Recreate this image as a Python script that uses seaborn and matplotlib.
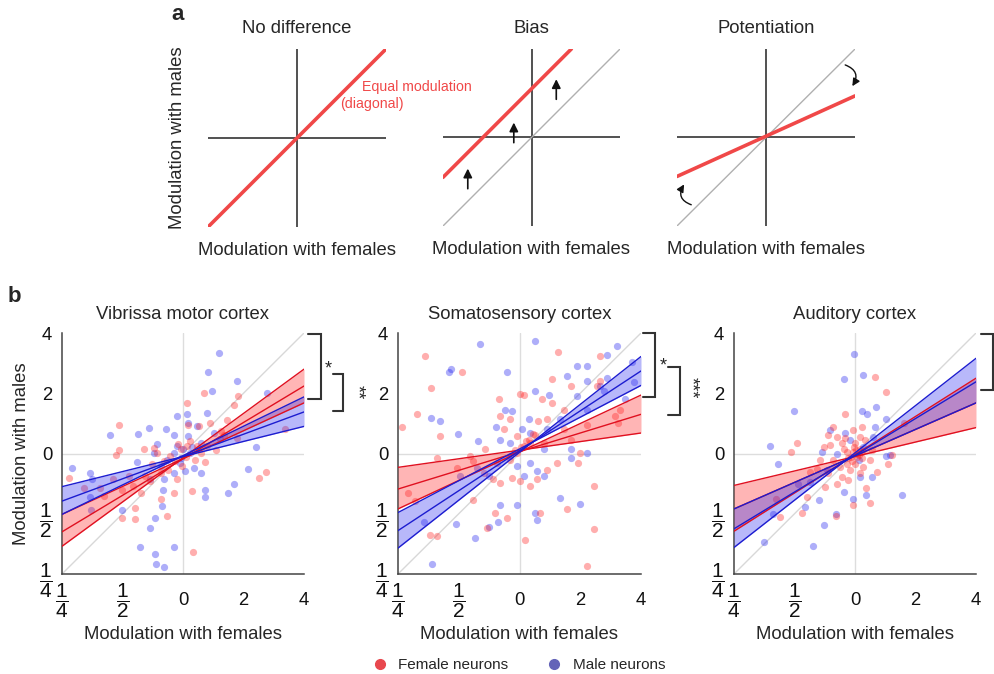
import matplotlib
matplotlib.use("Agg")
import matplotlib.pyplot as plt
from matplotlib.lines import Line2D
import seaborn as sns

sns.set_theme(style="white")
plt.rcParams['font.family'] = ['Liberation Sans', 'DejaVu Sans']
plt.rcParams['mathtext.fontset'] = 'custom'
plt.rcParams['mathtext.rm'] = 'Liberation Sans'
plt.rcParams['mathtext.it'] = 'Liberation Sans:italic'
plt.rcParams['mathtext.bf'] = 'Liberation Sans:bold'

# ---- panel a: schematic lines (unit square -1..1) ----
diag = [-1, 1]
bias_x = [-1, 0.45]
bias_y = [-0.45, 1]
pot_x = [-1, 1]
pot_y = [-0.44, 0.47]
bias_arrow_x = [-0.72, -0.20, 0.28]
bias_arrow_y0 = [-0.61, -0.09, 0.40]
bias_arrow_y1 = [-0.32, 0.20, 0.69]
pot_arrow_start = [(-0.84, -0.76), (0.89, 0.82)]
pot_arrow_end = [(-0.92, -0.53), (0.97, 0.58)]

# ---- panel b: log2 modulation ----
tick_pos = [-2, -1, 0, 1, 2]
tick_labels = [r'$\dfrac{1}{4}$', r'$\dfrac{1}{2}$', '0', '2', '4']
regions = ["Vibrissa motor cortex", "Somatosensory cortex", "Auditory cortex"]

vmc_f_x = [-1.89, -1.64, -1.37, -1.15, -1.06, -1.06, -1.10, -0.90, -0.82, -0.79, -0.79, -1.01,
           -1.01, -0.62, -0.65, -0.48, -0.36, -0.26, -0.15, -0.10, -0.02, 0.06, 0.09, 0.26,
           0.35, 0.17, 0.15, 0.37, 0.84, 0.91, 0.73, 0.62, 0.90, 1.25, 1.38, 1.69, -0.04,
           0.07, -0.21, -0.13, -0.32, -0.43, 0.29, 0.23, 0.40, 0.45, -0.37, -0.51, -0.70,
           -0.55, -1.30, 0.05, 0.12, -0.08, 0.20, 0.55, 0.68, -0.25]
vmc_f_y = [-0.40, -0.57, -0.58, -0.43, 0.48, 0.06, -0.02, -0.38, -0.54, -0.90, -1.09, -1.07,
           -0.60, -0.38, 0.07, 0.09, -0.76, -1.04, -0.65, -0.43, -0.21, 0.83, 0.48, 0.45,
           1.01, -1.64, -0.62, -0.14, 0.81, 0.95, 0.56, 0.37, 0.25, -0.41, -0.31, 0.40, 0.07,
           0.12, -0.04, -0.13, -0.13, 0.01, 0.01, 0.12, 0.12, 0.51, -0.32, -0.18, -0.66,
           -0.45, -0.70, -0.05, 0.20, 0.15, -0.10, 0.05, 0.30, -0.28]
vmc_m_x = [0.59, 0.42, 0.48, 0.89, 1.39, 0.40, 0.07, -0.10, 0.23, -1.20, -0.75, -0.57, -0.28,
           -0.15, 1.20, 1.08, 0.84, 0.75, 0.37, 0.37, -1.83, -1.53, -1.50, -1.53, -1.52,
           -1.01, -0.76, -0.48, -0.32, -0.33, -0.35, -0.47, -0.55, -0.71, -0.15, -0.47,
           -0.45, -0.32, -0.15, 0.04, 0.18, 0.29, 0.12, -0.04, 0.00, 0.09, 0.29, 0.51, 0.61,
           -0.15, -0.26, -0.37, -0.10, 0.09, -0.43, -0.54, 0.15, -0.05]
vmc_m_y = [1.67, 1.36, 1.03, 1.20, 1.01, 0.67, 0.65, 0.62, 0.45, 0.31, 0.33, 0.43, 0.40,
           0.31, 0.11, -0.25, -0.51, -0.65, -0.60, -0.73, -0.24, -0.32, -0.43, -0.73, -0.94,
           -0.93, -0.14, 0.01, -0.43, -0.60, -0.87, -1.07, -1.23, -1.56, -1.56, -1.67,
           -1.84, -1.88, -0.32, -0.29, -0.24, -0.32, 0.01, -0.07, 0.07, 0.29, 0.18, 0.34,
           0.24, 0.01, -0.10, -0.21, 0.12, 0.51, 0.15, -0.43, 0.10, -0.15]

ssc_f_x = [-1.56, -0.94, -1.45, -1.69, -1.93, -1.31, -1.36, -1.83, -1.72, -1.47, -1.35, -1.03,
           -0.76, -0.57, -0.33, 0.01, 0.08, 0.64, 0.37, 0.53, 0.53, 0.73, 0.84, 1.28, 1.33,
           1.32, 1.66, 1.58, 1.62, 1.11, 1.00, 0.97, 1.22, 1.22, 1.11, 0.78, 0.33, 0.09,
           -0.21, -0.40, -0.54, -0.77, -0.43, -0.32, -0.13, 0.01, 0.18, 0.29, 0.45, 0.62,
           -0.15, -0.32, -0.26, -0.04, 0.07, 0.18, 0.15, 0.23, 0.31, 0.45, -0.04, -0.15,
           -0.37, -0.59, -0.81, 0.73, 0.84, 0.40, 0.10, 0.25, 0.02, -0.08]
ssc_f_y = [1.62, 1.36, 1.09, 0.65, 0.44, 0.29, -0.07, -0.66, -0.79, -1.35, -1.37, -0.24,
           -0.13, 0.08, 0.91, 0.98, 0.97, 1.69, 0.90, 0.84, 1.23, 0.73, 1.12, 1.12, 1.62,
           1.21, 0.73, 0.62, 0.50, 0.47, 0.01, -0.16, -0.54, -1.26, -1.87, -0.92, -0.98,
           -1.44, -1.07, -0.98, -1.24, -0.78, -0.43, -0.49, -0.41, -0.46, -0.54, -0.43,
           -0.27, -0.16, 0.57, 0.62, 0.40, 0.29, 0.12, 0.18, 0.23, 0.32, 0.54, 0.57, 0.01,
           -0.10, -0.16, -0.32, -0.04, 0.40, 0.23, 0.18, 0.20, 0.30, 0.10, 0.05]
ssc_m_x = [-0.65, 0.26, -1.13, -1.16, -0.21, -1.45, -1.31, -1.01, -0.39, -0.24, -0.13, 0.26,
           0.48, 0.95, 0.78, 1.11, 0.95, 1.44, 1.61, 1.44, 1.11, 1.33, 1.39, 1.85, 1.88,
           1.74, 1.11, 0.84, 1.11, 0.40, 0.67, 1.00, 0.26, 0.29, -0.04, -0.32, -0.35, -0.51,
           -0.73, -1.05, -1.44, -1.57, -0.98, -0.68, -0.15, -0.04, 0.07, 0.18, 0.29, 0.40,
           0.84, 0.15, 0.04, -0.15, -0.32, -0.51, -0.70, 0.67, 0.18, 0.45]
ssc_m_y = [1.82, 1.86, 1.41, 1.36, 1.36, 0.59, 0.54, 0.32, 0.44, 0.72, 0.71, 1.04, 0.97,
           0.96, 1.29, 1.46, 1.46, 1.63, 1.78, 1.26, 1.21, 1.12, 1.04, 1.52, 1.18, 0.90,
           0.73, 0.07, 0.01, 0.07, -0.74, -0.84, -0.99, -1.10, -0.85, -0.85, -1.13, -1.22,
           -1.41, -1.17, -1.84, -1.14, -0.37, 0.21, -0.04, -0.21, -0.38, -0.16, -0.29,
           -0.38, -0.07, 0.57, 0.40, 0.18, 0.23, -0.38, -0.24, 0.57, 0.34, 0.40]

ac_f_x = [0.33, 0.51, -0.17, -0.96, -1.06, -1.31, -1.24, -0.87, -0.80, -0.50, -0.31, -0.04,
          0.25, 0.18, 0.54, 0.61, 0.81, -0.36, -0.44, -0.30, -0.17, -0.03, 0.11, -0.14,
          -0.06, 0.03, 0.08, 0.00, -0.08, -0.25, -0.36, 0.14, 0.25, 0.28, 0.17, -0.58,
          -0.63, -0.44, -0.22, -0.11, 0.08, 0.36, -0.52, -0.41, -0.22, 0.00, 0.08, -0.11,
          0.06, -0.03, 0.11, -0.14, -0.30, -0.74, 0.02, -0.05, 0.04, -0.02, 0.12, -0.18]
ac_f_y = [1.27, 1.02, 0.66, 0.17, 0.03, -0.75, -1.05, -0.99, -0.72, -0.55, -1.04, -0.86,
          -0.82, -0.58, -0.17, -0.03, 0.50, 0.44, 0.30, 0.28, 0.25, 0.39, 0.44, 0.03,
          -0.06, 0.00, 0.08, -0.17, -0.28, -0.22, -0.11, -0.22, -0.11, 0.06, 0.22, -0.11,
          -0.25, -0.33, -0.39, -0.44, -0.33, -0.30, 0.11, 0.14, 0.17, 0.17, 0.28, -0.08,
          -0.03, 0.03, -0.08, -0.17, -0.50, -0.30, 0.05, -0.12, -0.05, 0.10, 0.02, 0.08]
ac_m_x = [-0.01, 0.14, -0.18, -1.00, 0.12, 0.20, 0.34, 0.52, 0.33, -0.41, -0.17, -1.40,
          -1.27, -0.95, -0.74, -0.59, -0.31, -0.51, -0.69, -1.50, -1.36, -0.83, -0.04,
          -0.19, 0.19, 0.28, 0.52, 0.58, 0.77, 0.08, -0.55, -0.30, 0.14, -0.08, -0.47,
          0.30, 0.06]
ac_m_y = [1.65, 1.31, 1.23, 0.70, 0.70, 0.66, 0.78, 0.58, 0.44, 0.39, 0.34, 0.12, -0.18,
          -0.50, -0.47, -0.78, -1.01, -1.19, -1.53, -1.47, -1.00, -0.89, -0.76, -0.64,
          -0.69, -0.39, -0.04, -0.03, -0.69, -0.39, 0.03, 0.00, 0.11, 0.22, -0.28, 0.28,
          -0.11]

# fitted lines evaluated at x = -2 and x = 2: centre fit, shallow and steep bounds
fit_x = [-2, 2]
vmc_f_fit, vmc_f_lo, vmc_f_hi = [-1.30, 1.12], [-1.01, 0.84], [-1.54, 1.40]
vmc_m_fit, vmc_m_lo, vmc_m_hi = [-0.79, 0.69], [-0.55, 0.45], [-1.01, 0.94]
ssc_f_fit, ssc_f_lo, ssc_f_hi = [-0.59, 0.65], [-0.23, 0.34], [-0.92, 0.97]
ssc_m_fit, ssc_m_lo, ssc_m_hi = [-1.28, 1.37], [-0.98, 1.13], [-1.57, 1.61]
ac_f_fit, ac_f_lo, ac_f_hi = [-0.92, 0.84], [-0.53, 0.43], [-1.29, 1.25]
ac_m_fit, ac_m_lo, ac_m_hi = [-1.25, 1.19], [-0.92, 0.84], [-1.56, 1.58]

W, H = 995, 674
fig = plt.figure(figsize=(W / 100, H / 100), dpi=100)


def px_axes(x0, y0, x1, y1):
    return fig.add_axes([x0 / W, 1 - y1 / H, (x1 - x0) / W, (y1 - y0) / H])


def fig_line(xs, ys, **kw):
    fig.add_artist(Line2D([x / W for x in xs], [1 - y / H for y in ys], **kw))


def fig_text(x, y, s, **kw):
    fig.text(x / W, 1 - y / H, s, **kw)


RED_A = '#f04848'
FS = 13.3

# ---------- panel a ----------
a_boxes = [(208, 49, 386, 227), (443, 49, 620, 226), (677, 49, 855, 226)]
a_titles = ["No difference", "Bias", "Potentiation"]
a_axes = []
for box, title in zip(a_boxes, a_titles):
    ax = px_axes(*box)
    ax.set_xlim(-1, 1)
    ax.set_ylim(-1, 1)
    ax.axis('off')
    ax.plot([-1, 1], [0, 0], color='#222222', lw=1.1)
    ax.plot([0, 0], [-1, 1], color='#222222', lw=1.1)
    ax.text(0.5, 1.115, title, transform=ax.transAxes, ha='center', va='center', fontsize=FS)
    ax.text(0.5, -0.13, "Modulation with females", transform=ax.transAxes,
            ha='center', va='center', fontsize=FS)
    a_axes.append(ax)

a1, a2, a3 = a_axes
sns.lineplot(x=diag, y=diag, color=RED_A, lw=2.6, ax=a1)
a1.text(-0.17, 0.5, "Modulation with males", transform=a1.transAxes, rotation=90,
        ha='center', va='center', fontsize=FS)
fig_text(362, 87, "Equal modulation", color=RED_A, fontsize=10.2, va='center')
fig_text(340, 104, "(diagonal)", color=RED_A, fontsize=10.2, va='center')

a2.plot(diag, diag, color='#b0b0b0', lw=1.0)
sns.lineplot(x=bias_x, y=bias_y, color=RED_A, lw=2.6, ax=a2)
for x, y0, y1 in zip(bias_arrow_x, bias_arrow_y0, bias_arrow_y1):
    a2.annotate('', xy=(x, y1), xytext=(x, y0),
                arrowprops=dict(arrowstyle='-|>', color='#111111', lw=1.2, mutation_scale=13))

a3.plot(diag, diag, color='#b0b0b0', lw=1.0)
sns.lineplot(x=pot_x, y=pot_y, color=RED_A, lw=2.6, ax=a3)
for st, en in zip(pot_arrow_start, pot_arrow_end):
    a3.annotate('', xy=en, xytext=st,
                arrowprops=dict(arrowstyle='-|>', color='#111111', lw=1.0, mutation_scale=11,
                                shrinkA=0, shrinkB=0, connectionstyle='arc3,rad=-0.6'))

fig_text(178, 15, "a", fontsize=16, fontweight='bold', va='center', ha='center')

# ---------- panel b ----------
b_boxes = [(62, 333, 304, 574), (398, 333, 641, 574), (734, 333, 976, 574)]
b_data = [
    (vmc_f_x, vmc_f_y, vmc_m_x, vmc_m_y,
     (vmc_f_fit, vmc_f_lo, vmc_f_hi), (vmc_m_fit, vmc_m_lo, vmc_m_hi)),
    (ssc_f_x, ssc_f_y, ssc_m_x, ssc_m_y,
     (ssc_f_fit, ssc_f_lo, ssc_f_hi), (ssc_m_fit, ssc_m_lo, ssc_m_hi)),
    (ac_f_x, ac_f_y, ac_m_x, ac_m_y,
     (ac_f_fit, ac_f_lo, ac_f_hi), (ac_m_fit, ac_m_lo, ac_m_hi)),
]
RED_PT, BLUE_PT = '#ff2020', '#2a2af0'
RED_LN, BLUE_LN = '#e01020', '#1c1cd0'

for i, (box, name, d) in enumerate(zip(b_boxes, regions, b_data)):
    fx, fy, mx, my, ffit, mfit = d
    ax = px_axes(*box)
    ax.set_xlim(-2, 2)
    ax.set_ylim(-2, 2)
    ax.plot([-2, 2], [-2, 2], color='#d8d8d8', lw=1.0, zorder=0)
    ax.axhline(0, color='#dddddd', lw=1.0, zorder=0)
    ax.axvline(0, color='#dddddd', lw=1.0, zorder=0)
    sns.scatterplot(x=mx, y=my, color=BLUE_PT, alpha=0.38, s=27, linewidth=0, ax=ax, zorder=2)
    sns.scatterplot(x=fx, y=fy, color=RED_PT, alpha=0.36, s=27, linewidth=0, ax=ax, zorder=2)
    for (fit, lo, hi), fc, lc in [(ffit, RED_PT, RED_LN), (mfit, BLUE_PT, BLUE_LN)]:
        ax.fill_between(fit_x, lo, hi, color=fc, alpha=0.33, lw=0, zorder=3)
        for line in (fit, lo, hi):
            ax.plot(fit_x, line, color=lc, lw=1.0, zorder=4)
    ax.set_xticks(tick_pos)
    ax.set_yticks(tick_pos)
    ax.set_xticklabels(tick_labels)
    ax.set_yticklabels(tick_labels)
    ax.tick_params(axis='x', direction='in', length=4, width=1, colors='#333333',
                   labelcolor='#111111', labelsize=FS, pad=19)
    ax.tick_params(axis='y', direction='in', length=4, width=1, colors='#333333',
                   labelcolor='#111111', labelsize=FS, pad=7)
    for lbl in ax.get_xticklabels():
        lbl.set_verticalalignment('center')
    for lbl in ax.get_xticklabels()[:2] + ax.get_yticklabels()[:2]:
        lbl.set_fontsize(15)
    sns.despine(ax=ax)
    for sp in ('left', 'bottom'):
        ax.spines[sp].set_color('#444444')
        ax.spines[sp].set_linewidth(1.1)
    ax.set_xlabel("")
    ax.set_ylabel("")
    ax.set_title(name, fontsize=FS, pad=10)
    ax.text(0.5, -0.25, "Modulation with females", transform=ax.transAxes,
            ha='center', va='center', fontsize=FS)

fig_text(22, 454, "Modulation with males", rotation=90, ha='center', va='center', fontsize=FS)
fig_text(14, 297, "b", fontsize=16, fontweight='bold', va='center', ha='center')

# significance brackets
BR = dict(color='#333333', lw=1.5, solid_joinstyle='miter')
fig_line([308, 321, 321, 308], [334, 334, 399, 399], **BR)
fig_line([333, 343, 343, 333], [374, 374, 411, 411], **BR)
fig_text(328, 369, "*", fontsize=13, ha='center', va='center')
fig_text(357, 392, "**", fontsize=13, ha='center', va='center', rotation=-90)
fig_line([643, 655, 655, 643], [333, 333, 397, 397], **BR)
fig_line([668, 680, 680, 668], [367, 367, 415, 415], **BR)
fig_text(663, 366, "*", fontsize=13, ha='center', va='center')
fig_text(691, 388, "***", fontsize=13, ha='center', va='center', rotation=-90)
fig_line([981, 993, 993, 981], [334, 334, 390, 390], **BR)

# legend
handles = [Line2D([], [], marker='o', ls='', color='#e8474e', markersize=7),
           Line2D([], [], marker='o', ls='', color='#6464b8', markersize=7)]
fig.legend(handles, ["Female neurons", "Male neurons"], loc='center',
           bbox_to_anchor=(515 / W, 1 - 665 / H), ncol=2, frameon=False, fontsize=11,
           handletextpad=0.2, columnspacing=2.0)

fig.savefig("out.png", dpi=100)
